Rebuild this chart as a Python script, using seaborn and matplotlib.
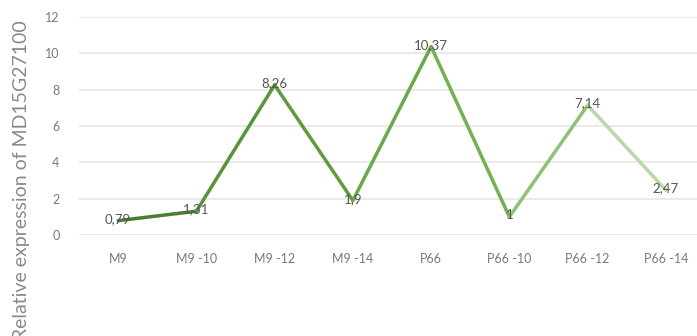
import matplotlib
matplotlib.use("Agg")
import matplotlib.pyplot as plt
import seaborn as sns
import pandas as pd

categories = ["M9", "M9 -10", "M9 -12", "M9 -14", "P66", "P66 -10", "P66 -12", "P66 -14"]
values = [0.79, 1.31, 8.26, 1.9, 10.37, 1.0, 7.14, 2.47]
value_labels = ["0,79", "1,31", "8,26", "1,9", "10,37", "1", "7,14", "2,47"]
segment_colors = ["#4a7d2c", "#57953a", "#5d9d3f", "#69a94b", "#74b054",
                  "#8fc276", "#b7d9a4", "#d0e7c3"]
y_ticks = [0, 2, 4, 6, 8, 10, 12]
y_label = "Relative expression of MD15G27100"

sns.set_theme(style="white")
plt.rcParams["font.family"] = ["Lato", "DejaVu Sans"]

# one short two-point segment per consecutive pair, each coloured separately
rows = []
for i in range(len(values) - 1):
    rows.append({"seg": i, "x": i, "y": values[i]})
    rows.append({"seg": i, "x": i + 1, "y": values[i + 1]})
df = pd.DataFrame(rows)

W, H = 697, 336
fig = plt.figure(figsize=(W / 100, H / 100), dpi=100)
left, right, bottom, top = 79, 705, 101, 319
ax = fig.add_axes([left / W, bottom / H, (right - left) / W, (top - bottom) / H])

sns.lineplot(data=df, x="x", y="y", hue="seg", palette=segment_colors,
             sort=False, linewidth=2.5, legend=False, ax=ax,
             solid_capstyle="round", solid_joinstyle="round", zorder=3)

for i, (v, lab) in enumerate(zip(values, value_labels)):
    ax.text(i, v + 0.1, lab, ha="center", va="center", fontsize=9.5,
            color="#555555", zorder=4)

ax.set_xlim(-0.5, len(categories) - 0.5)
ax.set_ylim(0, 12)
ax.set_yticks(y_ticks)
ax.set_yticklabels([str(t) for t in y_ticks], fontsize=9, color="#7a7a7a")
ax.set_xticks(range(len(categories)))
ax.set_xticklabels(categories, fontsize=9, color="#7a7a7a")
ax.tick_params(axis="both", length=0)
ax.tick_params(axis="y", pad=14)
ax.tick_params(axis="x", pad=13)
ax.set_xlabel("")
ax.set_ylabel("")
ax.yaxis.grid(True, color="#e8e8e8", linewidth=1.3)
ax.set_axisbelow(True)
for s in ax.spines.values():
    s.set_visible(False)

fig.text(22 / W, 1 - 20 / H, y_label, rotation=90, ha="center", va="top",
         fontsize=14, color="#8a8a8a")

fig.savefig("out.png", dpi=100)
